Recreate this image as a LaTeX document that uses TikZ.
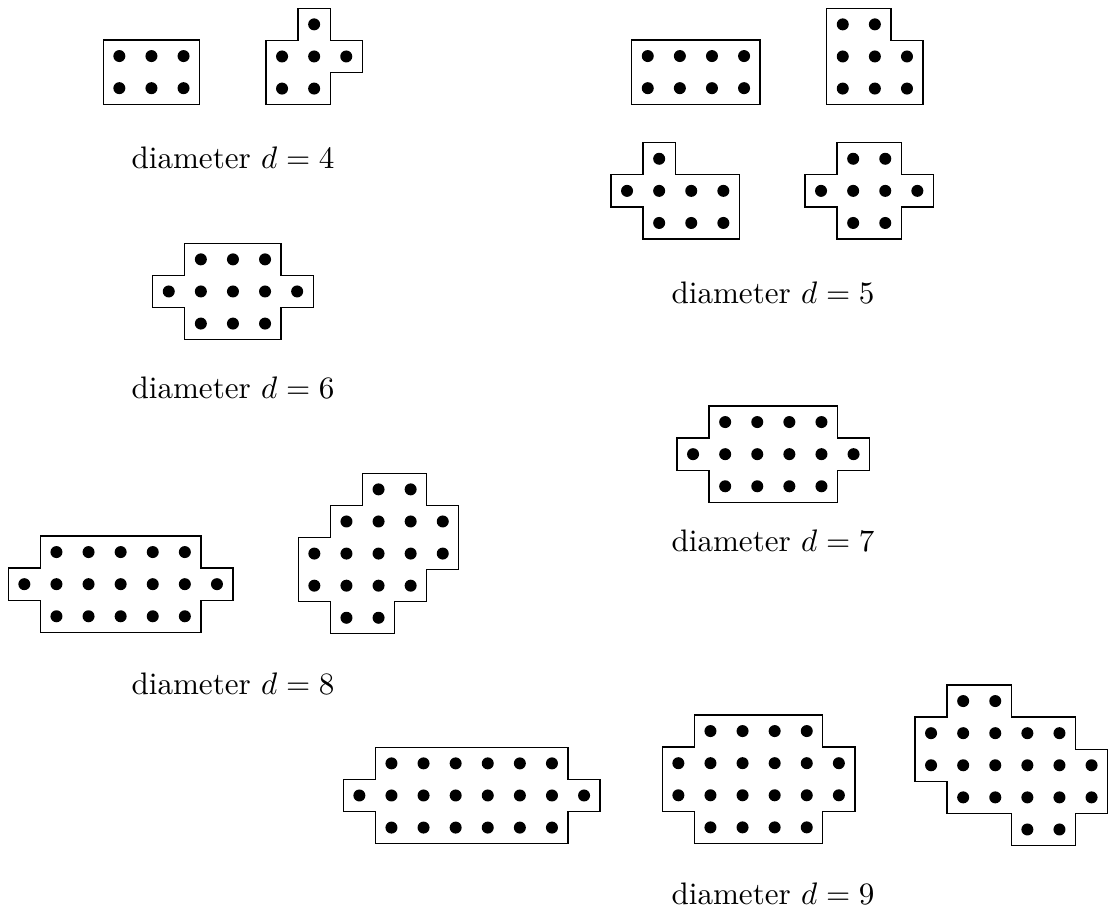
\documentclass[tikz,border=0pt]{standalone}
\newcommand\dotrow[3]{\foreach \cc in {#2,...,#3}{\fill (\cc+0.5,#1+0.5) circle[radius=1.93pt];}}
\tikzset{
  px/.style={x=0.3215pt,y=-0.3215pt},
  cell/.style={x=10.32pt,y=-10.32pt},
  outline/.style={draw=black,line width=0.42pt},
  lbl/.style={anchor=base,inner sep=0pt},
}
\begin{document}
\begin{tikzpicture}[px]
\useasboundingbox (0,0) rectangle (1110,914);
% d=4
\begin{scope}[shift={(103.3,40)},cell]
 \draw[outline] (0,0) rectangle (3,2);
 \dotrow{0}{0}{2}\dotrow{1}{0}{2}
\end{scope}
\begin{scope}[shift={(266,8.3)},cell]
 \draw[outline] (1,0) -| (2,1) -| (3,2) -| (2,3) -| (0,2) -| (0,1) -| (1,0) -- cycle;
 \dotrow{0}{1}{1}\dotrow{1}{0}{2}\dotrow{2}{0}{1}
\end{scope}
\node[lbl] (l4) at (233,168) {diameter $d=4$};
% d=5
\begin{scope}[shift={(631.7,40)},cell]
 \draw[outline] (0,0) rectangle (4,2);
 \dotrow{0}{0}{3}\dotrow{1}{0}{3}
\end{scope}
\begin{scope}[shift={(826.7,8.3)},cell]
 \draw[outline] (0,0) -| (2,1) -| (3,2) -| (3,3) -| (0,2) -| (0,1) -| (0,0) -- cycle;
 \dotrow{0}{0}{1}\dotrow{1}{0}{2}\dotrow{2}{0}{2}
\end{scope}
\begin{scope}[shift={(611,142.7)},cell]
 \draw[outline] (1,0) -| (2,1) -| (4,2) -| (4,3) -| (1,2) -| (0,1) -| (1,0) -- cycle;
 \dotrow{0}{1}{1}\dotrow{1}{0}{3}\dotrow{2}{1}{3}
\end{scope}
\begin{scope}[shift={(805,142.7)},cell]
 \draw[outline] (1,0) -| (3,1) -| (4,2) -| (3,3) -| (1,2) -| (0,1) -| (1,0) -- cycle;
 \dotrow{0}{1}{2}\dotrow{1}{0}{3}\dotrow{2}{1}{2}
\end{scope}
\node[lbl] (l5) at (773,303) {diameter $d=5$};
% d=6
\begin{scope}[shift={(152.7,243.3)},cell]
 \draw[outline] (1,0) -| (4,1) -| (5,2) -| (4,3) -| (1,2) -| (0,1) -| (1,0) -- cycle;
 \dotrow{0}{1}{3}\dotrow{1}{0}{4}\dotrow{2}{1}{3}
\end{scope}
\node[lbl] (l6) at (233,398) {diameter $d=6$};
% d=7
\begin{scope}[shift={(677,406)},cell]
 \draw[outline] (1,0) -| (5,1) -| (6,2) -| (5,3) -| (1,2) -| (0,1) -| (1,0) -- cycle;
 \dotrow{0}{1}{4}\dotrow{1}{0}{5}\dotrow{2}{1}{4}
\end{scope}
\node[lbl] (l7) at (773,551) {diameter $d=7$};
% d=8
\begin{scope}[shift={(8.3,536)},cell]
 \draw[outline] (1,0) -| (6,1) -| (7,2) -| (6,3) -| (1,2) -| (0,1) -| (1,0) -- cycle;
 \dotrow{0}{1}{5}\dotrow{1}{0}{6}\dotrow{2}{1}{5}
\end{scope}
\begin{scope}[shift={(298.3,473.3)},cell]
 \draw[outline] (2,0) -| (4,1) -| (5,2) -| (5,3) -| (4,4) -| (3,5) -| (1,4) -| (0,3) -| (0,2) -| (1,1) -| (2,0) -- cycle;
 \dotrow{0}{2}{3}\dotrow{1}{1}{4}\dotrow{2}{0}{4}\dotrow{3}{0}{3}\dotrow{4}{1}{2}
\end{scope}
\node[lbl] (l8) at (233,694) {diameter $d=8$};
% d=9
\begin{scope}[shift={(343.3,747.3)},cell]
 \draw[outline] (1,0) -| (7,1) -| (8,2) -| (7,3) -| (1,2) -| (0,1) -| (1,0) -- cycle;
 \dotrow{0}{1}{6}\dotrow{1}{0}{7}\dotrow{2}{1}{6}
\end{scope}
\begin{scope}[shift={(662.3,715)},cell]
 \draw[outline] (1,0) -| (5,1) -| (6,2) -| (6,3) -| (5,4) -| (1,3) -| (0,2) -| (0,1) -| (1,0) -- cycle;
 \dotrow{0}{1}{4}\dotrow{1}{0}{5}\dotrow{2}{0}{5}\dotrow{3}{1}{4}
\end{scope}
\begin{scope}[shift={(915,685)},cell]
 \draw[outline] (1,0) -| (3,1) -| (5,2) -| (6,3) -| (6,4) -| (5,5) -| (3,4) -| (1,3) -| (0,2) -| (0,1) -| (1,0) -- cycle;
 \dotrow{0}{1}{2}\dotrow{1}{0}{4}\dotrow{2}{0}{5}\dotrow{3}{1}{5}\dotrow{4}{3}{4}
\end{scope}
\node[lbl] (l9) at (773,904) {diameter $d=9$};
\end{tikzpicture}
\end{document}
